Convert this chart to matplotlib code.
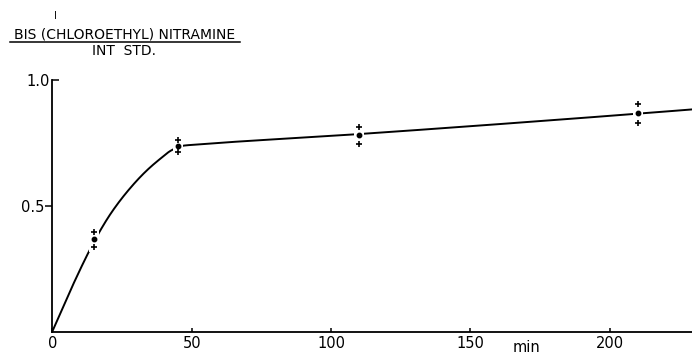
import numpy as np
import matplotlib
matplotlib.use("Agg")
import matplotlib.pyplot as plt
from matplotlib.lines import Line2D
from matplotlib.patches import Rectangle

# measured replicate points (ratio bis(chloroethyl)nitramine / internal std)
times = [15, 45, 110, 210]
upper = [0.397, 0.761, 0.814, 0.903]
middle = [0.367, 0.738, 0.781, 0.870]
lower = [0.337, 0.715, 0.746, 0.830]

# hand-drawn fitted curve
curve_t = [0, 7.1, 13.1, 16.6, 21.4, 27.4, 33.4, 38.2, 43, 47.1, 50.1, 110, 210, 229.5]
curve_y = [0, 0.178, 0.317, 0.390, 0.476, 0.563, 0.635, 0.682, 0.722, 0.739, 0.742, 0.785, 0.866, 0.883]

x_ticks = [0, 50, 100, 150, 200]
x_labels = ["0", "50", "100", "150", "200"]


def pchip(x, y, xs):
    x = np.asarray(x, float); y = np.asarray(y, float)
    h = np.diff(x); d = np.diff(y) / h
    m = np.zeros_like(y)
    for k in range(1, len(x) - 1):
        if d[k - 1] * d[k] > 0:
            w1 = 2 * h[k] + h[k - 1]; w2 = h[k] + 2 * h[k - 1]
            m[k] = (w1 + w2) / (w1 / d[k - 1] + w2 / d[k])
    m[0] = d[0]; m[-1] = d[-1]
    idx = np.clip(np.searchsorted(x, xs) - 1, 0, len(x) - 2)
    t = (xs - x[idx]) / h[idx]
    h00 = 2 * t**3 - 3 * t**2 + 1; h10 = t**3 - 2 * t**2 + t
    h01 = -2 * t**3 + 3 * t**2; h11 = t**3 - t**2
    return h00 * y[idx] + h10 * h[idx] * m[idx] + h01 * y[idx + 1] + h11 * h[idx] * m[idx + 1]


fig = plt.figure(figsize=(6.92, 3.56), dpi=100)
ax = fig.add_axes([52.3 / 692, (356 - 331.5) / 356, (692 - 52.3) / 692, (331.5 - 80) / 356])

xs = np.linspace(curve_t[0], curve_t[-1], 800)
ax.plot(xs, pchip(curve_t, curve_y, xs), color="black", lw=1.4, zorder=1, clip_on=False)

# white gaps in the curve around each group of points
for t, lo, hi in zip(times, lower, upper):
    ax.add_patch(Rectangle((t - 1.8, lo - 0.02), 3.6, hi - lo + 0.04,
                           facecolor="white", edgecolor="none", zorder=2))

ax.plot(times, middle, "o", color="black", ms=3.2, zorder=3, clip_on=False)
ax.plot(times, upper, "+", color="black", ms=4.5, mew=1.2, zorder=3, clip_on=False)
ax.plot(times, lower, "+", color="black", ms=4.5, mew=1.2, zorder=3, clip_on=False)

ax.set_xlim(0, 229.5)
ax.set_ylim(0, 1.0)
for s in ["top", "right"]:
    ax.spines[s].set_visible(False)
ax.spines["left"].set_bounds(0, 1.0)
ax.spines["left"].set_linewidth(1.3)
ax.spines["bottom"].set_linewidth(1.3)

ax.set_xticks(x_ticks)
ax.set_xticklabels(x_labels)
ax.tick_params(axis="x", direction="in", length=3, width=1.1, pad=3, labelsize=10.5)

ax.set_yticks([0.5])
ax.set_yticklabels(["0.5"])
ax.set_yticks([1.0], minor=True)
ax.set_yticklabels(["1.0"], minor=True)
ax.tick_params(axis="y", which="major", direction="out", length=5, width=1.1, pad=1, labelsize=10.5)
ax.tick_params(axis="y", which="minor", direction="in", length=5, width=1.1, pad=2, labelsize=10.5)

fig.text(527 / 692, 1 - 355 / 356, "min", ha="center", va="bottom", fontsize=10.5)

fig.text(125 / 692, 1 - 35 / 356, "BIS (CHLOROETHYL) NITRAMINE", ha="center", va="center", fontsize=10)
fig.text(55 / 692, 1 - 16 / 356, "I", ha="center", va="center", fontsize=7)
fig.add_artist(Line2D([10 / 692, 240 / 692], [1 - 42 / 356] * 2, color="black", lw=1.1,
                      transform=fig.transFigure))
fig.text(124 / 692, 1 - 51 / 356, "INT  STD.", ha="center", va="center", fontsize=10)

fig.savefig("out.png", dpi=100)
